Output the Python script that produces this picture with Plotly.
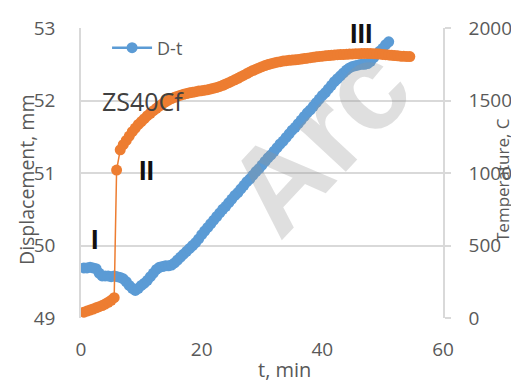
import plotly.graph_objects as go

# ---- data ----
t_disp = [0.5, 1.0, 1.5, 2.0, 2.5, 3.0, 3.5, 4.0, 4.5, 5.0, 5.5, 6.0, 6.5, 7.0, 7.5, 8.0, 8.5, 9.0, 9.5, 10.0,
          10.5, 11.0, 11.5, 12.0, 12.5, 13.0, 13.5, 14.0, 14.5, 15.0, 15.5, 16.0, 16.5, 17.0, 17.5, 18.0, 18.5, 19.0, 19.5, 20.0,
          20.5, 21.0, 21.5, 22.0, 22.5, 23.0, 23.5, 24.0, 24.5, 25.0, 25.5, 26.0, 26.5, 27.0, 27.5, 28.0, 28.5, 29.0, 29.5, 30.0,
          30.5, 31.0, 31.5, 32.0, 32.5, 33.0, 33.5, 34.0, 34.5, 35.0, 35.5, 36.0, 36.5, 37.0, 37.5, 38.0, 38.5, 39.0, 39.5, 40.0,
          40.5, 41.0, 41.5, 42.0, 42.5, 43.0, 43.5, 44.0, 44.5, 45.0, 45.5, 46.0, 46.5, 47.0, 47.5, 48.0, 48.5, 49.0, 49.5, 50.0,
          50.5, 51.0]
displacement = [49.69, 49.69, 49.70, 49.69, 49.68, 49.62, 49.58, 49.58, 49.58, 49.57, 49.58, 49.57, 49.56, 49.54, 49.50, 49.45, 49.41, 49.38, 49.41, 49.45,
                49.48, 49.52, 49.57, 49.62, 49.67, 49.70, 49.71, 49.72, 49.72, 49.73, 49.76, 49.80, 49.84, 49.88, 49.92, 49.96, 50.00, 50.04, 50.09, 50.15,
                50.20, 50.25, 50.30, 50.35, 50.40, 50.45, 50.50, 50.54, 50.59, 50.64, 50.69, 50.73, 50.78, 50.83, 50.88, 50.92, 50.97, 51.02, 51.06, 51.11,
                51.16, 51.21, 51.25, 51.30, 51.35, 51.40, 51.44, 51.49, 51.54, 51.59, 51.63, 51.68, 51.73, 51.78, 51.83, 51.87, 51.92, 51.97, 52.02, 52.07,
                52.11, 52.16, 52.21, 52.26, 52.30, 52.34, 52.38, 52.42, 52.45, 52.47, 52.48, 52.49, 52.50, 52.50, 52.51, 52.54, 52.59, 52.64, 52.68, 52.72,
                52.77, 52.81]

t_temp = [0.5, 1.0, 1.5, 2.0, 2.5, 3.0, 3.5, 4.0, 4.5, 5.0, 5.5, 5.9,
          6.5, 7.0, 7.5, 8.0, 8.5, 9.0, 9.5, 10.0, 10.5, 11.0, 11.5, 12.0, 12.5, 13.0, 13.5, 14.0, 14.5, 15.0,
          15.5, 16.0, 16.5, 17.0, 17.5, 18.0, 18.5, 19.0, 19.5, 20.0, 20.5, 21.0, 21.5, 22.0, 22.5, 23.0, 23.5, 24.0,
          24.5, 25.0, 25.5, 26.0, 26.5, 27.0, 27.5, 28.0, 28.5, 29.0, 29.5, 30.0, 30.5, 31.0, 31.5, 32.0, 32.5, 33.0,
          33.5, 34.0, 34.5, 35.0, 35.5, 36.0, 36.5, 37.0, 37.5, 38.0, 38.5, 39.0, 39.5, 40.0, 40.5, 41.0, 41.5, 42.0,
          42.5, 43.0, 43.5, 44.0, 44.5, 45.0, 45.5, 46.0, 46.5, 47.0, 47.5, 48.0, 48.5, 49.0, 49.5, 50.0, 50.5, 51.0,
          51.5, 52.0, 52.5, 53.0, 53.5, 54.0, 54.5]
temperature = [40, 48, 55, 62, 70, 78, 86, 96, 108, 122, 140, 1020,
               1160, 1195, 1225, 1255, 1285, 1310, 1335, 1355, 1375, 1395, 1412, 1430, 1446, 1462, 1477, 1491, 1503, 1513,
               1522, 1530, 1537, 1543, 1548, 1553, 1557, 1561, 1565, 1568, 1571, 1575, 1580, 1585, 1590, 1597, 1605, 1614,
               1623, 1633, 1643, 1653, 1664, 1675, 1686, 1697, 1707, 1716, 1725, 1733, 1741, 1748, 1754, 1759, 1764, 1768,
               1772, 1775, 1777, 1779, 1781, 1783, 1786, 1789, 1792, 1795, 1798, 1801, 1804, 1806, 1808, 1810, 1812, 1814,
               1816, 1817, 1818, 1819, 1820, 1821, 1822, 1823, 1824, 1825, 1825, 1824, 1823, 1822, 1820, 1818, 1816, 1814,
               1812, 1810, 1808, 1806, 1805, 1804, 1803]

x_ticks = [0, 20, 40, 60]
y1_ticks = [49, 50, 51, 52, 53]
y2_ticks = [0, 500, 1000, 1500, 2000]

BLUE = "#5B9BD5"
ORANGE = "#ED7D31"
GRID = "#D9D9D9"
TXT = "#595959"
FONT = "Open Sans"

fig = go.Figure()
fig.add_trace(go.Scatter(
    x=t_disp, y=displacement, name="D-t", mode="lines+markers",
    line=dict(color=BLUE, width=2.5), marker=dict(color=BLUE, size=11),
    yaxis="y", showlegend=True))
fig.add_trace(go.Scatter(
    x=t_temp, y=temperature, name="T-t", mode="lines+markers",
    line=dict(color=ORANGE, width=1.5), marker=dict(color=ORANGE, size=11),
    yaxis="y2", showlegend=False))

# The page body has an 8 px margin, so the figure is drawn 8 px in from the window corner.
OFF = 8
W, H = 519 - OFF, 385 - OFF
L, T = 81 - OFF, 28 - OFF
R, B = W - (443 - OFF), H - (318 - OFF)
PW, PH = W - L - R, H - T - B


def px(xs):
    """window x pixel -> paper fraction"""
    return (xs - OFF - L) / PW


def py(ys):
    """window y pixel -> paper fraction"""
    return (H - B - (ys - OFF)) / PH


fig.update_layout(
    width=W, height=H,
    margin=dict(l=L, r=R, t=T, b=B, pad=0, autoexpand=False),
    paper_bgcolor="white", plot_bgcolor="white",
    font=dict(family=FONT, size=17, color=TXT),
    xaxis=dict(range=[0, 60], tickvals=x_ticks, showgrid=False, zeroline=False, automargin=False,
               showline=False, ticks="", ticklabelstandoff=18,
               tickfont=dict(size=19, color=TXT)),
    yaxis=dict(range=[49, 53], tickvals=y1_ticks, showgrid=True, gridcolor=GRID, gridwidth=1.5,
               zeroline=False, showline=True, linecolor=GRID, linewidth=1.5, ticks="", automargin=False,
               ticklabelstandoff=20, tickfont=dict(size=19, color=TXT)),
    yaxis2=dict(range=[0, 2000], tickvals=y2_ticks, overlaying="y", side="right", automargin=False,
                showgrid=False, zeroline=False, showline=True, linecolor=GRID, linewidth=1.5,
                ticks="outside", ticklen=6, tickcolor=GRID, tickwidth=1.5,
                ticklabelstandoff=14, tickfont=dict(size=19, color=TXT)),
    legend=dict(x=0.072, y=0.995, xanchor="left", yanchor="top", bgcolor="rgba(0,0,0,0)",
                font=dict(size=18, color=TXT), itemwidth=40),
    showlegend=True,
)

# axis titles as annotations
fig.add_annotation(text="Displacement, mm", xref="paper", yref="paper",
                   x=px(27), y=py(180), xanchor="center", yanchor="middle",
                   textangle=-90, showarrow=False, font=dict(size=19.5, color=TXT))
fig.add_annotation(text="Temperature, C", xref="paper", yref="paper",
                   x=px(503), y=py(180), xanchor="center", yanchor="middle",
                   textangle=-90, showarrow=False, font=dict(size=17, color=TXT))
fig.add_annotation(text="t, min", xref="paper", yref="paper",
                   x=px(284), y=py(369), xanchor="center", yanchor="middle",
                   showarrow=False, font=dict(size=20, color=TXT))

# in-plot labels
fig.add_annotation(text="ZS40Cf", x=10.3, y=52.0, xref="x", yref="y", showarrow=False,
                   xanchor="center", yanchor="middle",
                   font=dict(size=25, color="#404040", family=FONT))
for txt, tx, ty in [("I", 2.4, 50.08), ("II", 10.9, 51.03), ("III", 46.5, 52.92)]:
    fig.add_annotation(text="<b>%s</b>" % txt, x=tx, y=ty, xref="x", yref="y", showarrow=False,
                       xanchor="center", yanchor="middle",
                       font=dict(size=27, color="#111111", family="Liberation Sans"))

# watermark
fig.add_annotation(text="<b>Arc</b>", xref="paper", yref="paper",
                   x=px(318), y=py(140), xanchor="center", yanchor="middle",
                   textangle=-47, showarrow=False,
                   font=dict(size=122, color="rgba(150,150,150,0.30)", family="Liberation Sans"))

# right frame line of the chart box
fig.add_shape(type="line", xref="paper", yref="paper",
              x0=px(518), x1=px(518), y0=py(9), y1=py(385),
              line=dict(color=GRID, width=1.5))

fig.write_html("out.html")
